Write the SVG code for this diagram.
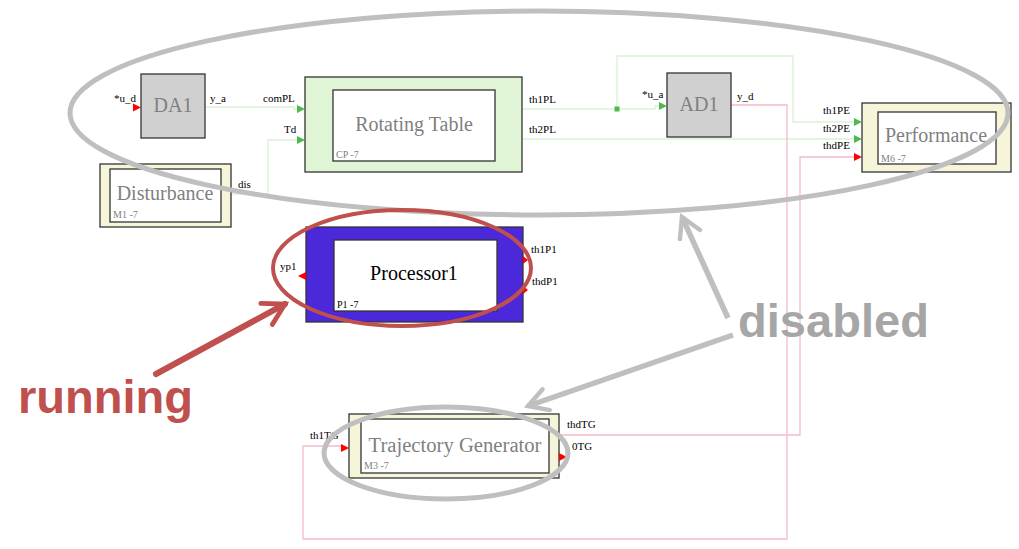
<svg xmlns="http://www.w3.org/2000/svg" width="1019" height="549" viewBox="0 0 1019 549">
<defs>
<style>
.outer{stroke:#333;stroke-width:1.3}
.inner{fill:#fff;stroke:#333;stroke-width:1.3}
.title{font-family:"Liberation Serif","Times New Roman",serif;font-size:20px;fill:#7f7f7f;text-anchor:middle}
.sub{font-family:"Liberation Serif","Times New Roman",serif;font-size:10px;fill:#7f7f7f}
.port{font-family:"Liberation Serif","Times New Roman",serif;font-size:11px;fill:#000}
.gl{fill:none;stroke:#d9f2d3;stroke-width:1.3}
.pl{fill:none;stroke:#f5bccb;stroke-width:1.3}
.ga{fill:#4cbb4c}
.ra{fill:#ff0000}
.ann{font-family:"Liberation Sans",Arial,sans-serif;font-weight:bold;font-size:47px}
</style>
<marker id="chevR" viewBox="0 0 10 10" refX="8" refY="5" markerWidth="5" markerHeight="5" markerUnits="strokeWidth" orient="auto"><path d="M1,1 L8,5 L1,9" fill="none" stroke="#c0504d" stroke-width="1.6" stroke-linecap="round"/></marker>
<marker id="chevG" viewBox="0 0 10 10" refX="8" refY="5" markerWidth="5" markerHeight="5" markerUnits="strokeWidth" orient="auto"><path d="M1,1 L8,5 L1,9" fill="none" stroke="#bfbfbf" stroke-width="1.6" stroke-linecap="round"/></marker>
</defs>
<rect width="1019" height="549" fill="#fff"/>

<g id="connectors">
<path class="gl" d="M205,107 H294 V109 H298"/>
<path class="gl" d="M231,194 H268 V140 H298"/>
<path class="gl" d="M522,109 H655 V106 H660"/>
<path class="gl" d="M617,109 V56 H793 V122 H855"/>
<path class="gl" d="M522,139 H855"/>
<rect x="614.5" y="106.5" width="5" height="5" class="ga"/>
<path class="pl" d="M731,105 H787 V539 H303 V446 H342"/>
<path class="pl" d="M559,435 H800 V157 H855"/>
</g>

<g id="DA1">
<rect x="141" y="74" width="64" height="64" fill="#d0d0d0" class="outer"/>
<text x="173" y="112" class="title">DA1</text>
<text x="114" y="102" class="port">*u_d</text>
<text x="210" y="102" class="port">y_a</text>
<polygon class="ra" points="133,103.5 141,107.5 133,111.5"/>
</g>

<g id="RotatingTable">
<rect x="305" y="77" width="217" height="95" fill="#dff5d6" class="outer"/>
<rect x="333" y="90" width="162" height="71" class="inner"/>
<text x="414" y="131" class="title">Rotating Table</text>
<text x="336" y="158" class="sub">CP -7</text>
<text x="263" y="102" class="port">comPL</text>
<text x="284" y="133" class="port">Td</text>
<text x="529" y="103" class="port">th1PL</text>
<text x="529" y="133" class="port">th2PL</text>
<polygon class="ga" points="297,105 305,109 297,113"/>
<polygon class="ga" points="297,136 305,140 297,144"/>
</g>

<g id="Disturbance">
<rect x="100" y="164" width="131" height="63" fill="#f7f5d9" class="outer"/>
<rect x="110" y="169" width="111" height="53" class="inner"/>
<text x="165" y="200" class="title">Disturbance</text>
<text x="113" y="218" class="sub">M1 -7</text>
<text x="238" y="188" class="port">dis</text>
</g>

<g id="AD1">
<rect x="667" y="73" width="64" height="64" fill="#d0d0d0" class="outer"/>
<text x="699" y="111" class="title">AD1</text>
<text x="642" y="98" class="port">*u_a</text>
<text x="737" y="100" class="port">y_d</text>
<polygon class="ga" points="659,102 667,106 659,110"/>
</g>

<g id="Performance">
<rect x="862" y="103" width="149" height="69" fill="#f7f5d9" class="outer"/>
<rect x="878" y="112" width="118" height="52" class="inner"/>
<text x="936" y="142" class="title">Performance</text>
<text x="881" y="162" class="sub">M6 -7</text>
<text x="823" y="114" class="port">th1PE</text>
<text x="823" y="132" class="port">th2PE</text>
<text x="823" y="149" class="port">thdPE</text>
<polygon class="ga" points="854,118 862,122 854,126"/>
<polygon class="ga" points="854,135 862,139 854,143"/>
<polygon class="ra" points="854,153 862,157 854,161"/>
</g>

<g id="Processor1">
<rect x="306" y="227" width="217" height="95" fill="#4b28d9" class="outer"/>
<rect x="334" y="240" width="163" height="71" class="inner"/>
<text x="414" y="280" class="title" style="fill:#000">Processor1</text>
<text x="337" y="308" class="sub" style="fill:#000">P1 -7</text>
<text x="280" y="270" class="port">yp1</text>
<text x="531" y="253" class="port">th1P1</text>
<text x="532" y="285" class="port">thdP1</text>
<polygon class="ra" points="306,272 298,276 306,280"/>
<polygon class="ra" points="523,256 528,260 523,264"/>
<polygon class="ra" points="523,286 528,290 523,294"/>
</g>

<g id="TrajectoryGenerator">
<rect x="349" y="414" width="210" height="64" fill="#f7f5d9" class="outer"/>
<rect x="361" y="419" width="188" height="54" class="inner"/>
<text x="455" y="452" class="title" textLength="173" lengthAdjust="spacingAndGlyphs">Trajectory Generator</text>
<text x="364" y="469" class="sub">M3 -7</text>
<text x="310" y="439" class="port">th1TG</text>
<text x="567" y="428" class="port">thdTG</text>
<text x="572" y="450" class="port">0TG</text>
<polygon class="ra" points="341,444 349,448 341,452"/>
<polygon class="ra" points="559,453 567,457 559,461"/>
</g>

<g id="annotations">
<ellipse cx="539" cy="113" rx="469" ry="102" fill="none" stroke="#bfbfbf" stroke-width="5"/>
<ellipse cx="402" cy="268" rx="129" ry="58" fill="none" stroke="#c0504d" stroke-width="4"/>
<ellipse cx="446" cy="453" rx="122" ry="46" fill="none" stroke="#bfbfbf" stroke-width="5"/>
<line x1="156" y1="374" x2="285" y2="304" stroke="#c0504d" stroke-width="6" stroke-linecap="round" marker-end="url(#chevR)"/>
<line x1="728" y1="318" x2="682" y2="217" stroke="#bfbfbf" stroke-width="5.5" marker-end="url(#chevG)"/>
<line x1="733" y1="335" x2="528" y2="406" stroke="#bfbfbf" stroke-width="5.5" marker-end="url(#chevG)"/>
<text x="18" y="413" class="ann" fill="#c0504d" textLength="175" lengthAdjust="spacingAndGlyphs">running</text>
<text x="738" y="337" class="ann" fill="#a6a6a6" textLength="191" lengthAdjust="spacingAndGlyphs">disabled</text>
</g>
</svg>
